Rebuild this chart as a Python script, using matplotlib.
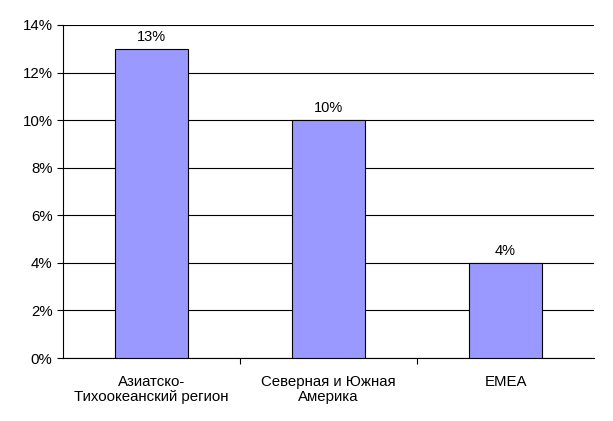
import matplotlib.pyplot as plt
import numpy as np
from matplotlib.ticker import FuncFormatter, FixedLocator

plt.rcParams['font.family'] = ['Liberation Sans', 'DejaVu Sans']

regions = ['Азиатско-\nТихоокеанский регион', 'Северная и Южная\nАмерика', 'EMEA']
growth = [13, 10, 4]
bar_labels = ['13%', '10%', '4%']

fig = plt.figure(figsize=(6.13, 4.21), dpi=100)
ax = fig.add_axes([63 / 613, 1 - 358 / 421, 531 / 613, 333 / 421])

x = np.arange(len(regions))
bars = ax.bar(x, growth, width=0.41, color='#9999FF', edgecolor='black', linewidth=0.8, zorder=3)
for b, lbl in zip(bars, bar_labels):
    ax.text(b.get_x() + b.get_width() / 2, b.get_height() + 0.2, lbl,
            ha='center', va='bottom', fontsize=10.5)

ax.set_xlim(-0.5, 2.5)
ax.set_ylim(0, 14)
ax.set_yticks(np.arange(0, 15, 2))
ax.yaxis.set_major_formatter(FuncFormatter(lambda v, p: '%d%%' % v))
ax.yaxis.grid(True, color='black', linewidth=0.8, zorder=0)

ax.set_xticks(x)
ax.set_xticklabels(regions, fontsize=10.8, linespacing=1.15)
ax.xaxis.set_minor_locator(FixedLocator([0.5, 1.5]))
ax.tick_params(axis='x', which='major', length=0, pad=12)
ax.tick_params(axis='x', which='minor', length=4, width=0.8, direction='out')
ax.tick_params(axis='y', length=4, width=0.8, direction='out', labelsize=10.8)

ax.spines['top'].set_visible(False)
ax.spines['right'].set_visible(False)
ax.spines['left'].set_linewidth(0.8)
ax.spines['bottom'].set_linewidth(0.8)

fig.savefig('out.png', dpi=100)
